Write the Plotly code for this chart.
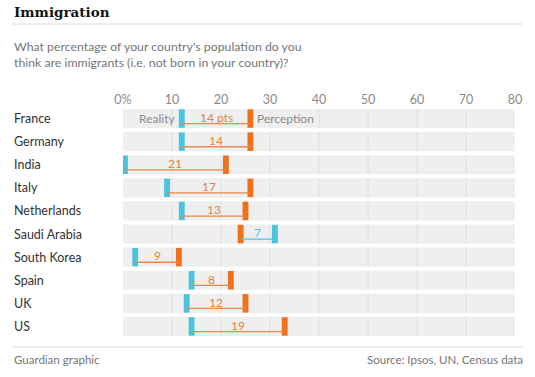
import plotly.graph_objects as go

countries = ["France", "Germany", "India", "Italy", "Netherlands",
             "Saudi Arabia", "South Korea", "Spain", "UK", "US"]
reality = [12, 12, 0.4, 9, 12, 31, 2.5, 14, 13, 14]
perception = [26, 26, 21, 26, 25, 24, 11.4, 22, 25, 33]
gap_labels = ["14 pts", "14", "21", "17", "13", "7", "9", "8", "12", "19"]
tick_vals = [0, 10, 20, 30, 40, 50, 60, 70, 80]
tick_text = ["0%", "10", "20", "30", "40", "50", "60", "70", "80"]

BLUE = "#4bc3dd"
ORANGE = "#f0711c"
ORANGE_TXT = "#e0843f"
ORANGE_LINE = "#e8894a"
GREY = "#767676"
FONT = "Lato"

W, H = 535, 377
ys = list(range(len(countries)))
band_w = 0.83
mark_w = 1.2

fig = go.Figure()

# background bands
fig.add_trace(go.Bar(y=ys, x=[tick_vals[-1]] * len(ys), base=[tick_vals[0]] * len(ys),
                     orientation="h", width=band_w, marker_color="#efefef",
                     marker_line_width=0, hoverinfo="skip", showlegend=False))

# gridlines inside bands
gx, gy = [], []
for i in ys:
    for t in tick_vals[1:-1]:
        gx += [t, t, None]
        gy += [i - band_w / 2, i + band_w / 2, None]
fig.add_trace(go.Scatter(x=gx, y=gy, mode="lines", line=dict(color="#dedede", width=1),
                         hoverinfo="skip", showlegend=False))

# connecting lines
for i in ys:
    col = ORANGE_LINE if perception[i] >= reality[i] else BLUE
    fig.add_trace(go.Scatter(x=[reality[i], perception[i]], y=[i + 0.22, i + 0.22],
                             mode="lines", line=dict(color=col, width=1.3),
                             hoverinfo="skip", showlegend=False))

# markers as narrow bars
fig.add_trace(go.Bar(y=ys, x=[mark_w] * len(ys), base=[r - mark_w / 2 for r in reality],
                     orientation="h", width=0.8, marker_color=BLUE, marker_line_width=0,
                     showlegend=False))
fig.add_trace(go.Bar(y=ys, x=[mark_w] * len(ys), base=[p - mark_w / 2 for p in perception],
                     orientation="h", width=0.8, marker_color=ORANGE, marker_line_width=0,
                     showlegend=False))

annotations = []
for i, c in enumerate(countries):
    annotations.append(dict(x=12 / W, xref="paper", y=i, yref="y", text=c, showarrow=False,
                            xanchor="left", yanchor="middle",
                            font=dict(family=FONT, size=12.5, color="#333333")))
    col = ORANGE_TXT if perception[i] >= reality[i] else BLUE
    annotations.append(dict(x=(reality[i] + perception[i]) / 2, xref="x", y=i - 0.05, yref="y",
                            text=gap_labels[i], showarrow=False, xanchor="center",
                            yanchor="middle", font=dict(family=FONT, size=12, color=col)))

annotations.append(dict(x=reality[0] - 0.9, xref="x", y=0, yref="y", text="Reality",
                        showarrow=False, xanchor="right", yanchor="middle",
                        font=dict(family=FONT, size=12, color="#8a8a8a")))
annotations.append(dict(x=perception[0] + 0.9, xref="x", y=0, yref="y", text="Perception",
                        showarrow=False, xanchor="left", yanchor="middle",
                        font=dict(family=FONT, size=12, color="#8a8a8a")))

# title/texts
annotations.append(dict(x=12 / W, y=1 - 12 / H, xref="paper", yref="paper", text="<b>Immigration</b>",
                        showarrow=False, xanchor="left", yanchor="middle",
                        font=dict(family="DejaVu Serif", size=13.5, color="#121212")))
annotations.append(dict(x=12 / W, y=1 - 55 / H, xref="paper", yref="paper",
                        text="What percentage of your country's population do you<br>think are immigrants (i.e. not born in your country)?",
                        showarrow=False, xanchor="left", yanchor="middle", align="left",
                        font=dict(family=FONT, size=12.3, color=GREY)))
annotations.append(dict(x=12 / W, y=1 - 359 / H, xref="paper", yref="paper", text="Guardian graphic",
                        showarrow=False, xanchor="left", yanchor="middle",
                        font=dict(family=FONT, size=11.5, color=GREY)))
annotations.append(dict(x=525 / W, y=1 - 359 / H, xref="paper", yref="paper",
                        text="Source: Ipsos, UN, Census data",
                        showarrow=False, xanchor="right", yanchor="middle",
                        font=dict(family=FONT, size=11.5, color=GREY)))

shapes = [
    dict(type="line", xref="paper", yref="paper", x0=12 / W, x1=523 / W, y0=1 - 24 / H, y1=1 - 24 / H,
         line=dict(color="#dcdcdc", width=1)),
    dict(type="line", xref="paper", yref="paper", x0=12 / W, x1=523 / W, y0=1 - 347 / H, y1=1 - 347 / H,
         line=dict(color="#dcdcdc", width=1)),
]

fig.update_layout(
    template="none",
    width=W, height=H, margin=dict(l=0, r=0, t=0, b=0, pad=0),
    paper_bgcolor="white", plot_bgcolor="white", barmode="overlay",
    annotations=annotations, shapes=shapes, showlegend=False,
    xaxis=dict(domain=[123 / W, 515 / W], range=[0, 80], side="top", tickvals=tick_vals,
               ticktext=tick_text, showgrid=False, zeroline=False, showline=False, ticks="",
               tickfont=dict(family=FONT, size=12.5, color="#8a8a8a"), ticklabelstandoff=0,
               automargin=False, fixedrange=True),
    yaxis=dict(domain=[1 - 338 / H, 1 - 107 / H], range=[9.5, -0.5], showticklabels=False,
               showgrid=False, zeroline=False, showline=False, ticks="", automargin=False,
               fixedrange=True),
)

fig.write_html("out.html", config={"displayModeBar": False},
               post_script="document.body.style.margin='0';document.body.style.overflow='hidden';")
